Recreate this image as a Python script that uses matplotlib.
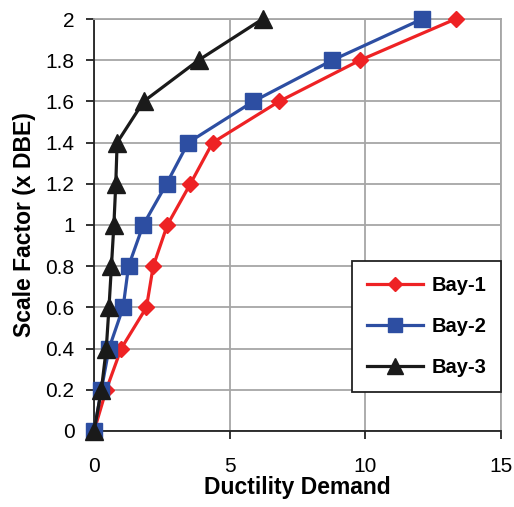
import matplotlib.pyplot as plt

plt.rcParams['font.family'] = ['Liberation Sans', 'DejaVu Sans']

# scale factors (x DBE)
scale = [0, 0.2, 0.4, 0.6, 0.8, 1.0, 1.2, 1.4, 1.6, 1.8, 2.0]

# ductility demand per bay
bay1 = [0.0, 0.45, 1.0, 1.93, 2.18, 2.7, 3.55, 4.37, 6.82, 9.8, 13.32]
bay2 = [0.0, 0.27, 0.55, 1.07, 1.27, 1.81, 2.67, 3.47, 5.87, 8.78, 12.09]
bay3 = [0.0, 0.27, 0.45, 0.55, 0.64, 0.73, 0.8, 0.85, 1.83, 3.85, 6.21]

fig = plt.figure(figsize=(5.14, 5.07), dpi=100)
ax = fig.add_axes([0.183, 0.150, 0.792, 0.8125])

ax.plot(bay1, scale, '-D', color='#ee2224', lw=2.3, ms=8.3, label='Bay-1', clip_on=False, zorder=3)
ax.plot(bay2, scale, '-s', color='#2d4ea2', lw=2.3, ms=12, label='Bay-2', clip_on=False, zorder=4)
ax.plot(bay3, scale, '-^', color='#1a1a1a', lw=2.3, ms=13, label='Bay-3', clip_on=False, zorder=5)

ax.set_xlim(0, 15)
ax.set_ylim(0, 2)
ax.set_xticks([0, 5, 10, 15])
ax.set_yticks(scale)
ax.set_yticklabels(['0', '0.2', '0.4', '0.6', '0.8', '1', '1.2', '1.4', '1.6', '1.8', '2'])
ax.grid(True, color='#a6a6a6', lw=1.3)
ax.set_axisbelow(True)

for s in ['top', 'right']:
    ax.spines[s].set_color('#a6a6a6')
    ax.spines[s].set_linewidth(1.3)
for s in ['left', 'bottom']:
    ax.spines[s].set_color('#222222')
    ax.spines[s].set_linewidth(1.3)

ax.tick_params(labelsize=15, length=6, width=1.3, color='#222222')
ax.tick_params(axis='x', pad=13)
ax.tick_params(axis='y', pad=8)
ax.set_xlabel('Ductility Demand', fontsize=16.5, fontweight='bold', labelpad=0)
ax.set_ylabel('Scale Factor (x DBE)', fontsize=16.5, fontweight='bold', labelpad=7)

leg = ax.legend(loc='lower right', bbox_to_anchor=(1.0, 0.094),
                prop={'weight': 'bold', 'size': 14.5}, fancybox=False, framealpha=1,
                edgecolor='#222222', handlelength=2.8, borderpad=0.75, labelspacing=1.1,
                handletextpad=0.4, borderaxespad=0, markerscale=0.85)
leg.get_frame().set_linewidth(1.3)

fig.savefig('out.png', dpi=100)
